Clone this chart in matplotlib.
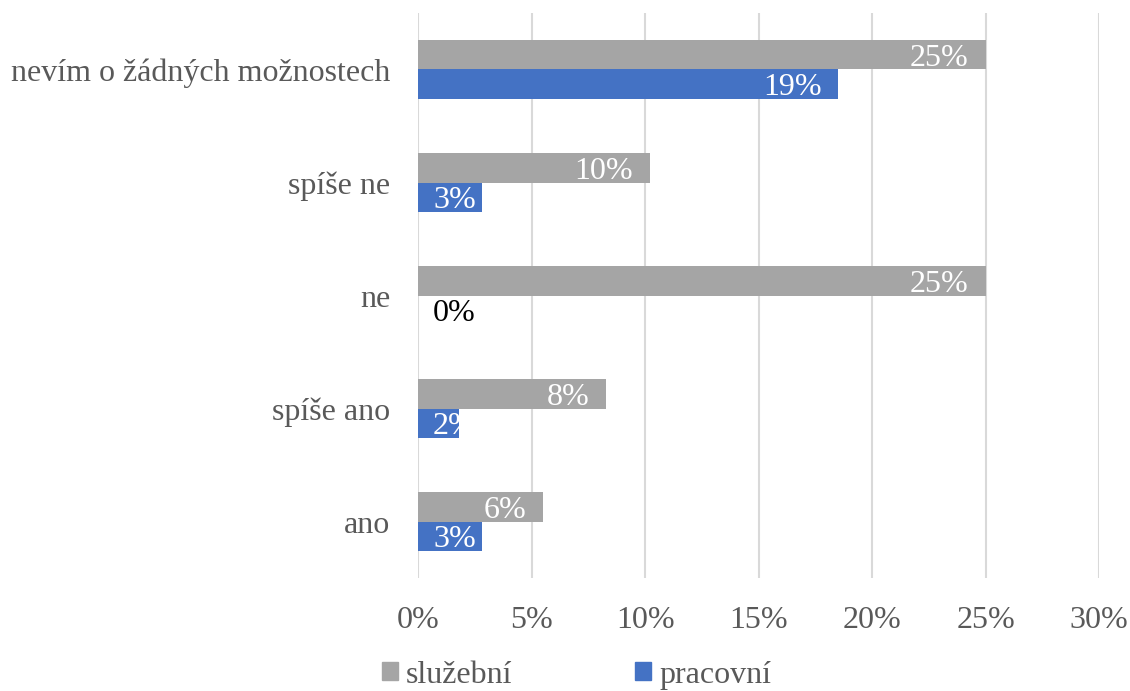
import matplotlib.pyplot as plt
import numpy as np
from matplotlib.patches import Patch

plt.rcParams['font.family'] = ['Liberation Serif', 'DejaVu Serif']

categories = ['ano', 'spíše ano', 'ne', 'spíše ne', 'nevím o žádných možnostech']
sluzebni = [5.5, 8.3, 25.0, 10.2, 25.0]
pracovni = [2.8, 1.8, 0.0, 2.8, 18.52]
series_names = ['služební', 'pracovní']
colors = ['#A5A5A5', '#4472C4']
xticks = [0, 5, 10, 15, 20, 25, 30]

fig = plt.figure(figsize=(11.3, 6.91), dpi=100)
ax = fig.add_axes([0.370, 0.1635, 0.6026, 0.8177])

y = np.arange(len(categories))
h = 0.257
bars_s = ax.barh(y + h / 2, sluzebni, height=h, color=colors[0], zorder=2)
bars_p = ax.barh(y - h / 2, pracovni, height=h, color=colors[1], zorder=2)

ax.set_xlim(0, 30)
ax.set_ylim(-0.5, 4.5)

renderer = fig.canvas.get_renderer()
end_gap = 0.75    # gap between label and bar end, in % units
start_gap = 0.66  # labels never start left of this

# value labels at the inside end of each bar, clipped to the bar
for bars, vals in [(bars_s, sluzebni), (bars_p, pracovni)]:
    for b, v in zip(bars, vals):
        cy = b.get_y() + b.get_height() / 2
        lab = '%d%%' % round(v)
        if v == 0:
            ax.text(start_gap, cy - 0.03, lab, ha='left', va='center',
                    fontsize=23, color='black', zorder=3)
            continue
        t = ax.text(v - end_gap, cy - 0.03, lab, ha='right', va='center',
                    fontsize=23, color='white', zorder=3)
        x0 = ax.transData.inverted().transform(
            t.get_window_extent(renderer).get_points())[0][0]
        if x0 < start_gap:
            t.set_x(start_gap)
            t.set_ha('left')
        t.set_clip_path(b)

ax.set_xticks(xticks)
ax.set_xticklabels(['%d%%' % t for t in xticks])
ax.set_yticks(y)
ax.set_yticklabels(categories)
ax.tick_params(axis='both', length=0, labelsize=23, labelcolor='#595959')
ax.tick_params(axis='y', pad=20)
ax.tick_params(axis='x', pad=20)
ax.grid(axis='x', color='#D9D9D9', linewidth=1.5, zorder=0)
for s in ax.spines.values():
    s.set_visible(False)

handles = [Patch(color=c) for c in colors]
fig.legend(handles, series_names, loc='center', bbox_to_anchor=(0.510, 0.023),
           ncol=2, frameon=False, fontsize=23, labelcolor='#595959',
           handlelength=0.5, handleheight=0.5, handletextpad=0.25,
           columnspacing=3.85)

fig.savefig('out.png', dpi=100)
